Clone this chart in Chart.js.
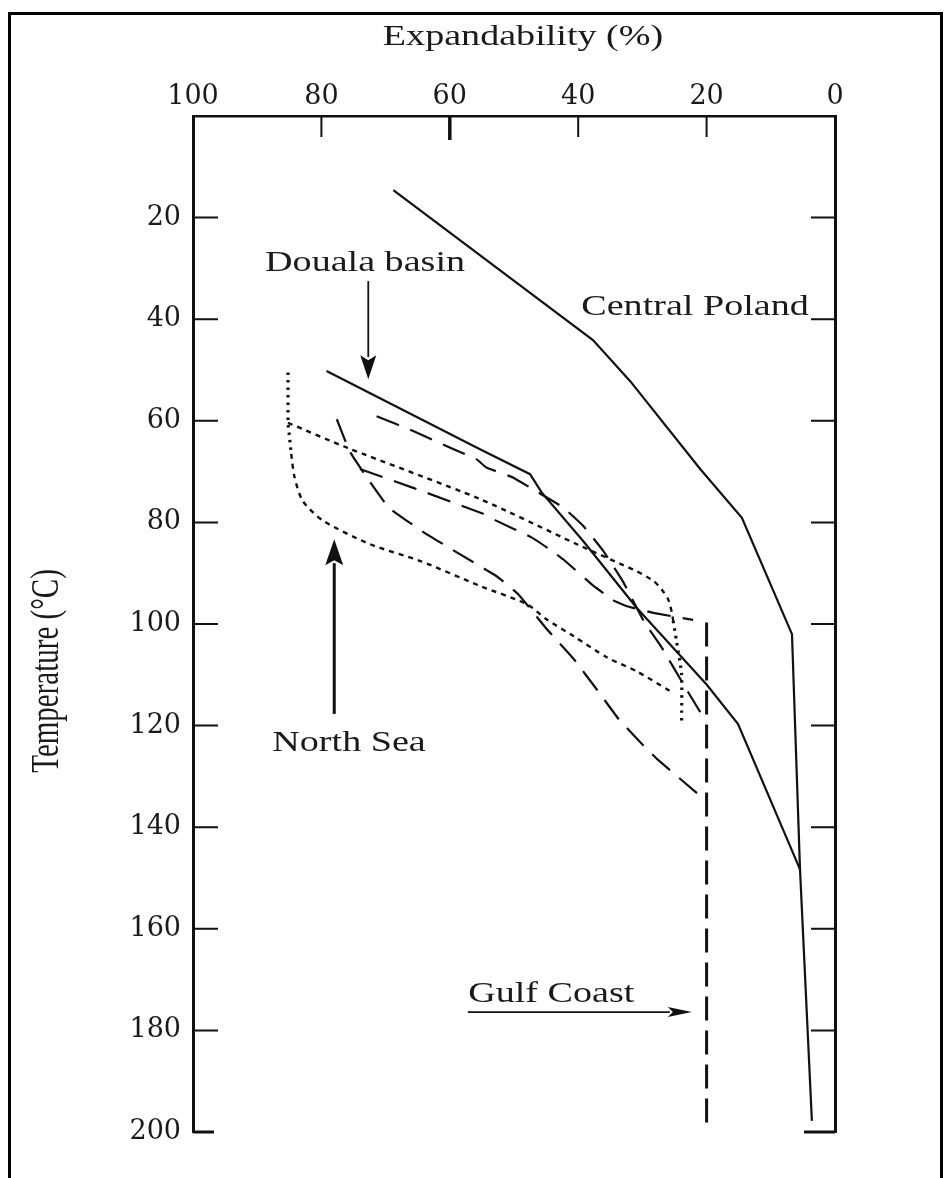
<!DOCTYPE html>
<html>
<head>
<meta charset="utf-8">
<script src="https://cdn.jsdelivr.net/npm/chart.js@4.4.1/dist/chart.umd.min.js"></script>
<style>
  html, body { margin: 0; padding: 0; background: #fff; }
  #wrap { position: relative; width: 950px; height: 1178px; overflow: hidden; }
  #frame { position: absolute; left: 8px; top: 12px; width: 935px; height: 1220px;
           border: 3px solid #000; box-sizing: border-box; pointer-events: none; }
  canvas { position: absolute; left: 0; top: 0; }
</style>
</head>
<body>
<div id="wrap">
  <canvas id="chart" width="950" height="1178"></canvas>
  <div id="frame"></div>
</div>
<script>
// [expandability %, temperature °C]
const centralPoland = [[68.8,14.6],[37.7,44.1],[31.9,52.2],[21,69.5],[14.5,79.1],[6.7,102],[5.45,148.3],[3.6,197.8]];
const doualaBasin = [[79.2,50.2],[55.3,65.6],[47.5,70.5],[45.7,74.1],[39.2,83.7],[30.9,96.8],[20,111.9],[15.1,119.7],[5.45,148.3]];
const northSeaLower = [[85.2,50.5],[85.2,60.4],[84.7,66.5],[84.2,71],[82.9,75.8],[79.7,79.7],[72.4,84.3],[64.6,87.6],
  [55.3,92.5],[48,96.1],[44.9,99.1],[40.7,102.4],[35.5,106.6],[30.9,109.3],[25.7,113.2]];
const northSeaUpper = [[85.2,60.4],[76,65.3],[55.3,75.4],[40.2,84.3],[33,88.4],[30.9,89.6],[28.3,91.5],[27,93.2],
  [26,95.1],[25.4,97.8],[25.2,99.4],[24.7,103.3],[23.9,109.9],[23.9,119.7]];
const dashedUpper = [[71.4,59.1],[65.7,62],[59.4,65.6],[55.8,67.6],[54.3,69.2],[50.1,71.2],[45.7,74.5],[42.3,77.1],
  [39.2,80.7],[36.1,85.6],[33,91.7],[29.8,99.4],[27,104.6],[23.6,111.9],[20,119.4]];
const dashedLower = [[77.6,59.7],[75.6,66],[72.9,71.2],[69.5,77.1],[64,82],[59.3,85.6],[52.7,90.6],[49.3,94.2],
  [44.9,101],[40.7,106.9],[37.1,112.9],[33.7,118.7],[29.8,124],[27.7,126.6],[21.5,133.3]];
const gulfCoastTrend = [[74,69.5],[65.7,73.2],[54.8,78.3],[52.7,79.7],[47.2,83],[44.1,85.6],[42.3,87.3],[37.6,92.5],
  [34.3,95.5],[32.4,96.5],[28.3,97.8],[22.1,99.2]];
const gulfCoastLimit = [[20,99.7],[20,198.4]];

const topTicks = [80, 60, 40, 20];
const sideTicks = [20, 40, 60, 80, 100, 120, 140, 160, 180, 200];

// labels and arrows, in data units
const notes = [
  { text: 'Douala basin', x: 73.2, y: 28.9 },
  { text: 'Central Poland', x: 21.8, y: 37.6 },
  { text: 'North Sea', x: 75.7, y: 123.4 },
  { text: 'Gulf Coast', x: 44.2, y: 172.8 }
];
const arrows = [
  { from: [72.7, 32.5], to: [72.7, 51.8], w: 1.8, hl: 24, hw: 8 },
  { from: [78.0, 117.7], to: [78.0, 83.3], w: 3, hl: 26, hw: 9 },
  { from: [57.2, 176.4], to: [22.3, 176.4], w: 1.8, hl: 24, hw: 5 }
];

const INK = '#111';
const STRETCH = 1.27;

function line(data, dash, width, tension) {
  return {
    data: data, borderColor: INK, borderWidth: width, borderDash: dash,
    pointRadius: 0, fill: false, tension: tension, borderCapStyle: 'butt'
  };
}

function arrow(ctx, x1, y1, x2, y2, w, hl, hw) {
  const len = Math.hypot(x2 - x1, y2 - y1);
  const ux = (x2 - x1) / len, uy = (y2 - y1) / len;
  const bx = x2 - ux * hl, by = y2 - uy * hl;
  ctx.lineWidth = w;
  ctx.beginPath();
  ctx.moveTo(x1, y1);
  ctx.lineTo(bx + ux * 2, by + uy * 2);
  ctx.stroke();
  ctx.beginPath();
  ctx.moveTo(x2, y2);
  ctx.lineTo(bx - uy * hw, by + ux * hw);
  ctx.lineTo(bx + ux * 5, by + uy * 5);
  ctx.lineTo(bx + uy * hw, by - ux * hw);
  ctx.closePath();
  ctx.fill();
}

function wideText(ctx, text, cx, cy, size) {
  ctx.save();
  ctx.translate(cx, cy);
  ctx.scale(STRETCH, 1);
  ctx.font = size + 'px "Liberation Serif"';
  ctx.textAlign = 'center';
  ctx.textBaseline = 'middle';
  ctx.fillText(text, 0, 0);
  ctx.restore();
}

const decor = {
  id: 'decor',
  afterDraw(chart) {
    const { ctx, chartArea: a, scales: { x, y } } = chart;
    ctx.save();
    ctx.strokeStyle = INK;
    ctx.fillStyle = INK;

    // ticks point into the plot
    sideTicks.forEach(v => {
      const py = y.getPixelForValue(v);
      const last = v === 200;
      ctx.lineWidth = last ? 3 : 2;
      ctx.beginPath();
      ctx.moveTo(a.left, py); ctx.lineTo(a.left + (last ? 21 : 25), py);
      ctx.moveTo(a.right, py); ctx.lineTo(a.right - (last ? 31 : 24), py);
      ctx.stroke();
    });
    topTicks.forEach(v => {
      const px = x.getPixelForValue(v);
      ctx.lineWidth = v === 60 ? 3.5 : 2;
      ctx.beginPath();
      ctx.moveTo(px, a.top); ctx.lineTo(px, a.top + (v === 60 ? 24 : 21));
      ctx.stroke();
    });

    arrows.forEach(r => arrow(ctx,
      x.getPixelForValue(r.from[0]), y.getPixelForValue(r.from[1]),
      x.getPixelForValue(r.to[0]), y.getPixelForValue(r.to[1]), r.w, r.hl, r.hw));

    ctx.fillStyle = '#1a1a1a';
    notes.forEach(n => wideText(ctx, n.text, x.getPixelForValue(n.x), y.getPixelForValue(n.y), 30));

    // axis titles
    wideText(ctx, 'Expandability (%)', 523, 37, 30);
    ctx.save();
    ctx.translate(48, 671);
    ctx.rotate(-Math.PI / 2);
    ctx.scale(1, 1.36);
    ctx.font = '29px "Liberation Serif"';
    ctx.textAlign = 'center';
    ctx.textBaseline = 'middle';
    ctx.fillText('Temperature (°C)', 0, 0);
    ctx.restore();

    ctx.restore();
  }
};

const dots = [2.5, 5];
const shortDash = [5, 5];
const longDash = [24, 12];

new Chart(document.getElementById('chart').getContext('2d'), {
  type: 'line',
  data: {
    datasets: [
      line(centralPoland, [], 2.2, 0),
      line(doualaBasin, [], 2.2, 0),
      // North Sea: dotted vertical starts/ends, short dashes between
      line(northSeaLower.slice(0, 3), dots, 3.2, 0),
      line(northSeaLower.slice(2), shortDash, 2.4, 0.25),
      line(northSeaUpper.slice(0, 11), shortDash, 2.4, 0.25),
      line(northSeaUpper.slice(10), dots, 3.2, 0.2),
      line(dashedUpper, longDash, 2.2, 0.1),
      line(dashedLower, longDash, 2.2, 0.1),
      line(gulfCoastTrend, longDash, 2.2, 0.1),
      line(gulfCoastLimit, [24, 10], 3, 0)
    ]
  },
  options: {
    responsive: false,
    devicePixelRatio: 1,
    animation: false,
    events: [],
    layout: { padding: { top: 0, left: 0, right: 0, bottom: 46 } },
    plugins: { legend: { display: false }, tooltip: { enabled: false } },
    scales: {
      x: {
        type: 'linear', position: 'top', min: 0, max: 100, reverse: true,
        afterFit: s => { s.height = 116; },
        ticks: { stepSize: 20, padding: 3, color: '#1a1a1a', font: { family: 'DejaVu Serif', size: 27 } },
        grid: { drawOnChartArea: false, drawTicks: false },
        border: { display: true, color: INK, width: 2.5 }
      },
      y: {
        type: 'linear', position: 'left', min: 0, max: 200, reverse: true,
        afterFit: s => { s.width = 193; },
        ticks: { stepSize: 20, padding: 12, color: '#1a1a1a', font: { family: 'DejaVu Serif', size: 27 },
                 callback: v => v === 0 ? '' : v },
        grid: { drawOnChartArea: false, drawTicks: false },
        border: { display: true, color: INK, width: 3 }
      },
      y2: {
        type: 'linear', position: 'right', min: 0, max: 200, reverse: true,
        afterFit: s => { s.width = 115; },
        ticks: { display: false },
        grid: { drawOnChartArea: false, drawTicks: false },
        border: { display: true, color: INK, width: 3 }
      }
    }
  },
  plugins: [decor]
});
</script>
</body>
</html>
